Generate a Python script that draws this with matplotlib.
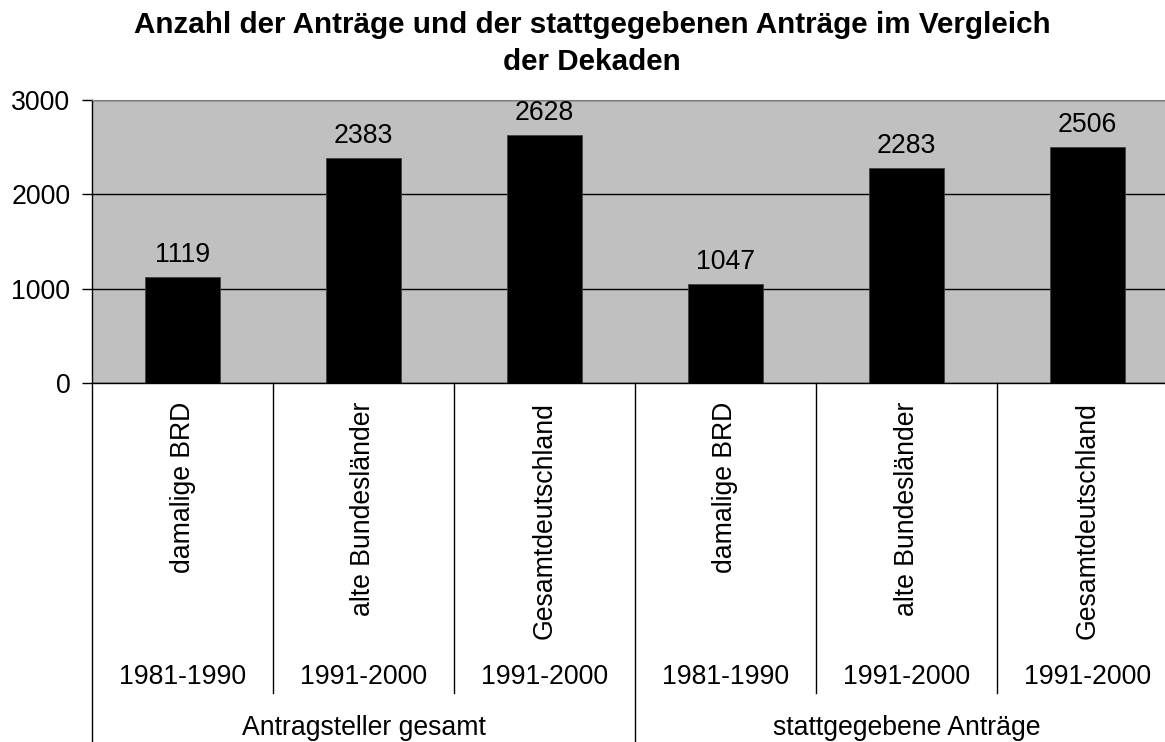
import matplotlib
matplotlib.use("Agg")
import matplotlib.pyplot as plt
import numpy as np

plt.rcParams["font.family"] = ["Liberation Sans", "DejaVu Sans"]

# data
regions = ["damalige BRD", "alte Bundesländer", "Gesamtdeutschland",
           "damalige BRD", "alte Bundesländer", "Gesamtdeutschland"]
decades = ["1981-1990", "1991-2000", "1991-2000",
           "1981-1990", "1991-2000", "1991-2000"]
groups = ["Antragsteller gesamt", "stattgegebene Anträge"]
group_size = 3
values = [1119, 2383, 2628, 1047, 2283, 2506]
yticks = [0, 1000, 2000, 3000]
title_lines = ["Anzahl der Anträge und der stattgegebenen Anträge im Vergleich",
               "der Dekaden"]

W, H, DPI = 1165, 742, 100
fig = plt.figure(figsize=(W / DPI, H / DPI), dpi=DPI)

# plot area in pixels (right edge runs past the picture, as in the reference)
left_px, right_px, top_px, bottom_px = 92, 1178, 100, 383
ax = fig.add_axes([left_px / W, 1 - bottom_px / H,
                   (right_px - left_px) / W, (bottom_px - top_px) / H])
ax_h = bottom_px - top_px
fs = 19.2


def ay(px):
    # pixel row below the axes -> axes fraction
    return (bottom_px - px) / ax_h


x = np.arange(len(values))
ax.set_facecolor("#c0c0c0")
ax.bar(x, values, width=0.41, color="black", edgecolor="#404040", linewidth=0.6, zorder=3)
ax.set_xlim(-0.5, len(values) - 0.5)
ax.set_ylim(0, 3000)
ax.set_yticks(yticks)
ax.yaxis.grid(True, color="black", linewidth=1.0)
ax.set_axisbelow(True)
ax.tick_params(axis="y", direction="out", length=7, width=1, pad=8.5,
               labelsize=fs, colors="black")
ax.set_xticks([])

for s in ["top", "right"]:
    ax.spines[s].set_color("#808080")
for s in ["left", "bottom"]:
    ax.spines[s].set_color("black")
    ax.spines[s].set_linewidth(1.0)

for xi, v in zip(x, values):
    ax.annotate(str(v), (xi, v), xytext=(0, 10.8), textcoords="offset points",
                ha="center", va="baseline", fontsize=fs)

tr = ax.get_xaxis_transform()
for xi, (r, d) in enumerate(zip(regions, decades)):
    ax.text(xi, ay(402), r, rotation=90, ha="center", va="top",
            fontsize=fs, transform=tr, clip_on=False)
    ax.text(xi, ay(677), d, ha="center", va="center",
            fontsize=fs, transform=tr, clip_on=False)

# separators of the category axis
for b in range(len(values) + 1):
    xb = b - 0.5
    outer = b % group_size == 0
    y_end = ay(760) if outer else ay(693)
    ax.plot([xb, xb], [0, y_end], color="black", linewidth=1.0,
            transform=tr, clip_on=False)

for gi, g in enumerate(groups):
    xc = gi * group_size + (group_size - 1) / 2
    ax.text(xc, ay(735), g, ha="center", va="baseline",
            fontsize=fs, transform=tr, clip_on=False)

# title, one text per line so the spacing matches
for line, base_px in zip(title_lines, [33, 70]):
    fig.text(592 / W, 1 - base_px / H, line, ha="center", va="baseline",
             fontsize=21.3, fontweight="bold")

fig.savefig("out.png", dpi=DPI)
